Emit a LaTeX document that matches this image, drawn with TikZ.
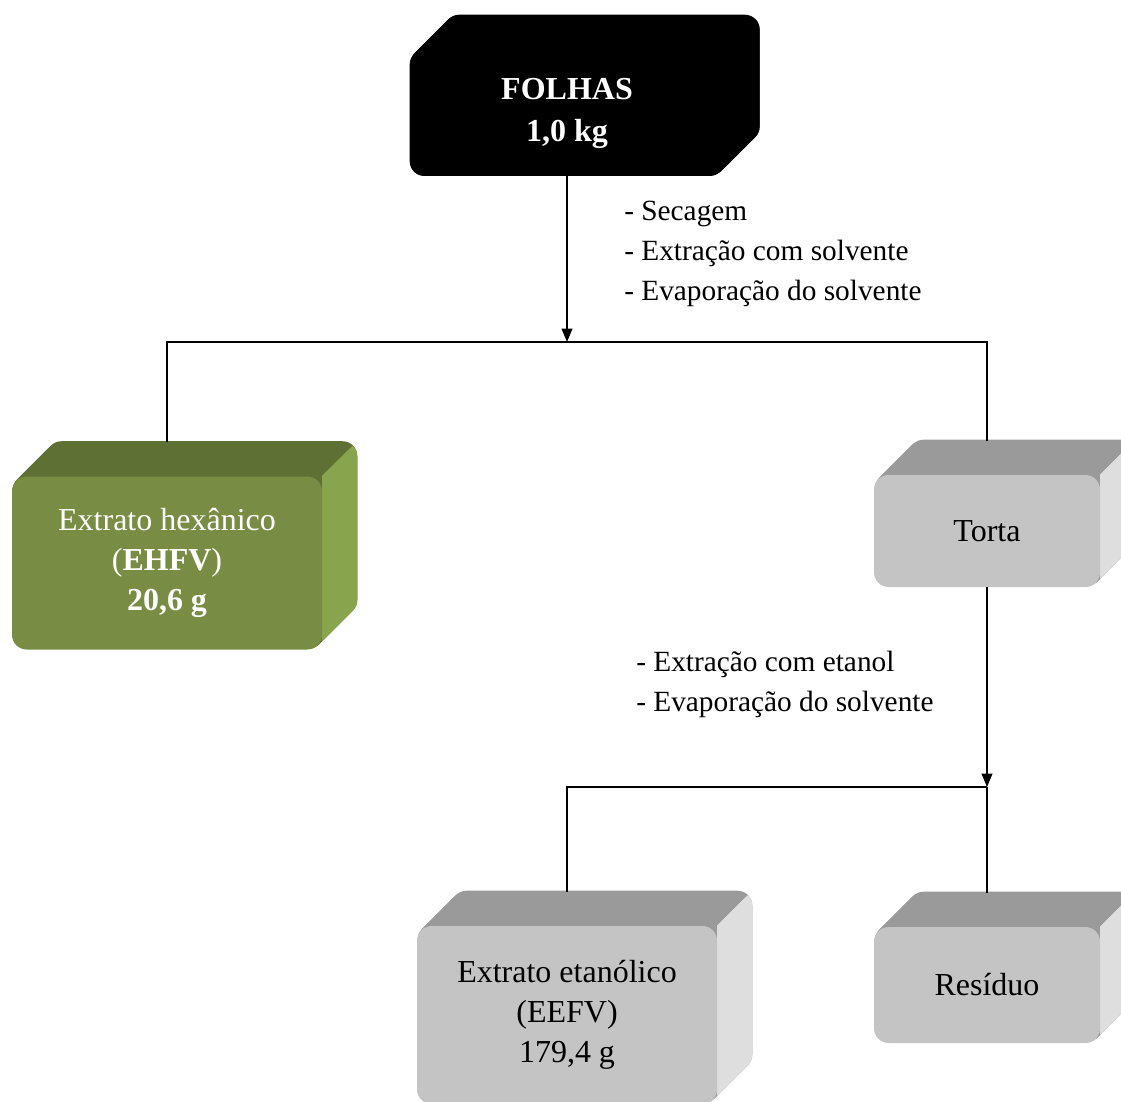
\documentclass[tikz,border=0pt]{standalone}
\usepackage{fontspec}
\setmainfont{Liberation Serif}
\usetikzlibrary{arrows.meta,backgrounds}

\definecolor{verdefrente}{RGB}{120,141,67}
\definecolor{verdetopo}{RGB}{94,112,52}
\definecolor{verdelado}{RGB}{136,164,76}
\definecolor{cinzafrente}{RGB}{196,196,196}
\definecolor{cinzatopo}{RGB}{154,154,154}
\definecolor{cinzalado}{RGB}{222,222,222}

\tikzset{
  caixa/.style={rectangle, rounded corners=11pt, inner sep=0pt, align=center,
    font=\fontsize{24}{30}\selectfont},
  etapa/.style={inner sep=0pt, align=left, font=\fontsize{22}{30}\selectfont},
  ligacao/.style={line width=1.2pt},
  seta/.style={ligacao, -{Triangle[length=10pt,width=8pt]}}
}

% faces de cima e do lado (nome, cor do topo, cor do lado)
\newcommand\relevo[3]{%
  \begin{scope}[on background layer]
    \foreach \k in {1,...,35}
      \fill[#2, rounded corners=11pt] ([shift={(\k,-\k)}]#1.north west) rectangle ([shift={(\k,-\k)}]#1.south east);
    \begin{scope}
      \clip (#1.north east) -- ++(50,-50) -- ([shift={(50,10)}]#1.south east) -- ([shift={(0,10)}]#1.south east) -- cycle;
      \foreach \k in {1,...,35}
        \fill[#3, rounded corners=11pt] ([shift={(\k,-\k)}]#1.north west) rectangle ([shift={(\k,-\k)}]#1.south east);
    \end{scope}
  \end{scope}}

\begin{document}
\begin{tikzpicture}[x=0.75pt, y=-0.75pt]
  \useasboundingbox (0,0) rectangle (1121,1102);

  % caixas
  \node[caixa, fill=black, text=white, minimum width=236pt, minimum height=94.5pt,
    font=\fontsize{24}{31.5}\selectfont\bfseries] (folhas) at (567,113) {FOLHAS\\1,0 kg};
  \node[caixa, fill=verdefrente, text=white, minimum width=232.5pt, minimum height=129.75pt]
    (hexanico) at (167,563) {Extrato hexânico\\(\textbf{EHFV})\\\textbf{20,6 g}};
  \node[caixa, fill=cinzafrente, minimum width=169.5pt, minimum height=84pt]
    (torta) at (987,531) {Torta};
  \node[caixa, fill=cinzafrente, minimum width=225pt, minimum height=133.5pt]
    (etanolico) at (567,1015) {Extrato etanólico\\(EEFV)\\179,4 g};
  \node[caixa, fill=cinzafrente, minimum width=169.5pt, minimum height=87pt]
    (residuo) at (987,985) {Resíduo};

  \relevo{folhas}{black}{black}
  \relevo{hexanico}{verdetopo}{verdelado}
  \relevo{torta}{cinzatopo}{cinzalado}
  \relevo{etanolico}{cinzatopo}{cinzalado}
  \relevo{residuo}{cinzatopo}{cinzalado}

  % etapas
  \node[etapa, anchor=west] (etapas1) at (624,254)
    {- Secagem\\- Extração com solvente\\- Evaporação do solvente};
  \node[etapa, anchor=west] (etapas2) at (636,684)
    {- Extração com etanol\\- Evaporação do solvente};

  % ligacoes
  \coordinate (juncao1) at (567,342);
  \coordinate (juncao2) at (987,787);
  \draw[seta] (folhas) -- (juncao1);
  \draw[ligacao] (juncao1) -| ([yshift=25.5pt]hexanico.north);
  \draw[ligacao] (juncao1) -| ([yshift=25.5pt]torta.north);
  \draw[seta] (torta) -- (juncao2);
  \draw[ligacao] (juncao2) -| ([yshift=25.5pt]etanolico.north);
  \draw[ligacao] (juncao2) -- ([yshift=25.5pt]residuo.north);
\end{tikzpicture}
\end{document}
